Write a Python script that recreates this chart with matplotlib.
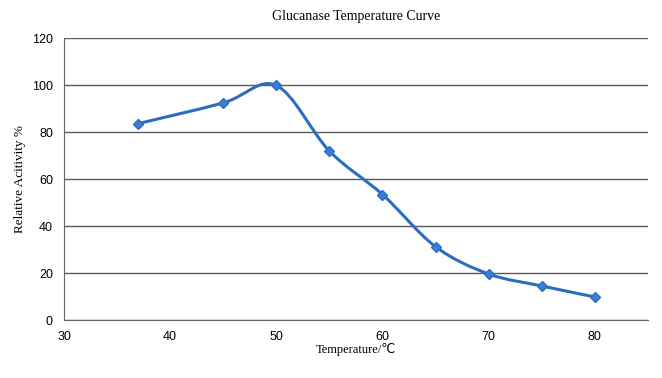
import numpy as np
import matplotlib.pyplot as plt
from matplotlib.path import Path
from matplotlib.patches import PathPatch

temps = [37, 45, 50, 55, 60, 65, 70, 75, 80]
activity = [83.6, 92.4, 99.8, 71.9, 53.4, 31.2, 19.6, 14.5, 9.8]
yticks = [0, 20, 40, 60, 80, 100, 120]
xticks = [30, 40, 50, 60, 70, 80]

line_color = '#2a6ebf'


def smooth_path(xs, ys):
    # Excel-like smoothed line: Catmull-Rom turned into cubic bezier pieces
    pts = np.column_stack([xs, ys]).astype(float)
    n = len(pts)
    verts = [pts[0]]
    codes = [Path.MOVETO]
    for i in range(n - 1):
        p0 = pts[i - 1] if i > 0 else pts[i]
        p1 = pts[i]
        p2 = pts[i + 1]
        p3 = pts[i + 2] if i + 2 < n else pts[i + 1]
        c1 = p1 + (p2 - p0) / 6.0
        c2 = p2 - (p3 - p1) / 6.0
        verts += [c1, c2, p2]
        codes += [Path.CURVE4] * 3
    return Path(verts, codes)


fig = plt.figure(figsize=(6.62, 3.78), dpi=100)
ax = fig.add_axes([0.0967, 0.1534, 0.882, 0.746])

ax.add_patch(PathPatch(smooth_path(temps, activity), fill=False,
                       edgecolor=line_color, lw=2.2, zorder=3))
ax.plot(temps, activity, ls='none', marker='D', ms=5.5, color='#3b7dd0',
        mec='#2f6fbf', zorder=4)

ax.set_xlim(30, 85)
ax.set_ylim(0, 120)
ax.set_xticks(xticks)
ax.set_yticks(yticks)
ax.yaxis.grid(True, color='#595959', lw=1)
ax.set_axisbelow(True)
for s in ['top', 'right']:
    ax.spines[s].set_visible(False)
for s in ['left', 'bottom']:
    ax.spines[s].set_color('#666666')
ax.tick_params(length=0, labelsize=9, pad=8)
for lab in ax.get_xticklabels() + ax.get_yticklabels():
    lab.set_fontfamily('Liberation Sans')

ax.set_title('Glucanase Temperature Curve', fontfamily='Liberation Serif',
             fontsize=10, pad=13)
ax.set_xlabel('Temperature/℃', fontfamily=['Liberation Serif', 'DejaVu Sans'],
              fontsize=9, labelpad=0)
ax.set_ylabel('Relative Acitivity %', fontfamily='Liberation Serif',
              fontsize=9.5, labelpad=4)

fig.savefig('out.png', dpi=100)
